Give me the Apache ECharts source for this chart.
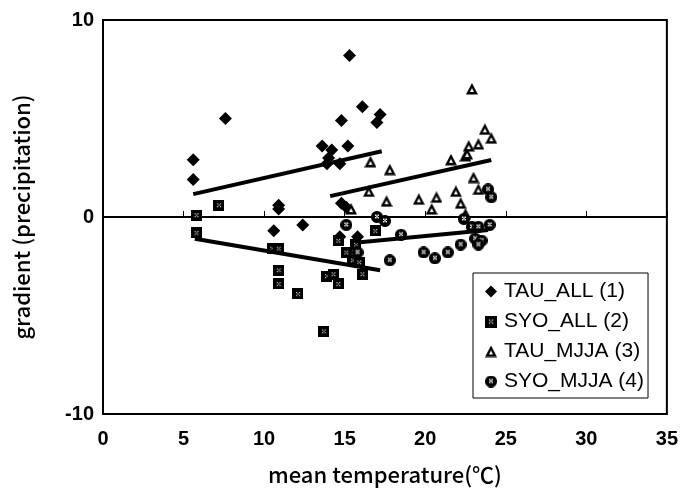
<!DOCTYPE html>
<html>
<head>
<meta charset="utf-8">
<script src="https://cdn.jsdelivr.net/npm/echarts@6/dist/echarts.min.js"></script>
<style>
  html, body { margin: 0; padding: 0; background: #fff; }
  #chart { width: 681px; height: 492px; }
</style>
</head>
<body>
<div id="chart"></div>
<script>
// values: [mean temperature, gradient]
const tauAll = [
  [5.6, 2.9], [5.6, 1.9], [7.6, 5.0], [15.3, 8.2], [16.1, 5.6], [17.2, 5.2],
  [17.0, 4.8], [14.8, 4.9], [13.6, 3.6], [14.2, 3.4], [15.2, 3.6], [14.0, 3.0],
  [13.9, 2.7], [14.7, 2.7], [14.8, 0.7], [15.1, 0.5], [10.9, 0.4], [10.9, 0.6],
  [10.6, -0.7], [12.4, -0.4], [14.7, -1.0], [15.8, -1.0]
]
const syoAll = [
  [5.8, 0.1], [7.2, 0.6], [5.8, -0.8], [10.5, -1.6], [10.9, -1.6], [10.9, -2.7],
  [10.9, -3.4], [12.1, -3.9], [13.7, -5.8], [13.9, -3.0], [14.3, -2.9], [14.6, -3.4],
  [14.6, -1.2], [15.1, -1.8], [15.5, -2.2], [15.9, -2.3], [16.1, -2.9], [15.7, -1.4],
  [16.9, -0.7]
]
const tauMjja = [
  [15.4, 0.4], [16.6, 2.8], [17.8, 2.4], [16.5, 1.3], [17.6, 0.8], [19.6, 0.9],
  [20.4, 0.4], [20.7, 1.0], [21.6, 2.9], [22.5, 3.1], [22.6, 3.2], [22.7, 3.6],
  [23.3, 3.7], [23.7, 4.45], [24.1, 4.0], [22.9, 6.5], [21.9, 1.3], [22.2, 0.7],
  [23.0, 2.0], [23.3, 1.4], [22.5, 0.15]
]
const syoMjja = [
  [15.1, -0.4], [17.0, 0.0], [17.5, -0.2], [15.8, -1.8], [18.5, -0.9], [17.8, -2.2],
  [19.9, -1.8], [20.6, -2.1], [21.4, -1.8], [22.2, -1.4], [22.4, -0.1], [22.9, -0.5],
  [23.3, -0.5], [24.0, -0.4], [23.1, -1.1], [23.5, -1.2], [23.3, -1.4], [23.9, 1.4],
  [24.1, 1.0]
]

// trend lines (end points)
const line1 = [[5.6, 1.16], [17.3, 3.34]]
const line2 = [[5.7, -1.1], [17.2, -2.7]]
const line3 = [[14.1, 1.06], [24.1, 2.89]]
const line4 = [[15.8, -1.3], [23.9, -0.66]]

const seriesNames = ['TAU_ALL (1)', 'SYO_ALL (2)', 'TAU_MJJA (3)', 'SYO_MJJA (4)']
const notes = [
  { value: [8.2, 3.0], text: '(1)' },
  { value: [8.2, -3.1], text: '(2)' },
  { value: [20.9, 4.0], text: '(3)' },
  { value: [21.4, -3.85], text: '(4)' }
]

// little hatched markers like the printed ones
function makeSymbol(kind) {
  const c = document.createElement('canvas')
  c.width = 24
  c.height = 24
  const g = c.getContext('2d')
  g.fillStyle = '#000'
  if (kind === 'square') {
    g.fillRect(0, 0, 24, 24)
    g.fillStyle = '#ddd'
    ;[[8, 8], [14, 8], [11, 11], [8, 14], [14, 14]].forEach(p => g.fillRect(p[0], p[1], 2.5, 2.5))
  } else if (kind === 'circle') {
    g.beginPath(); g.arc(12, 12, 12, 0, Math.PI * 2); g.fill()
    g.fillStyle = '#eee'
    ;[[8, 7], [13, 7], [8, 12], [13, 12], [10.5, 9.5]].forEach(p => g.fillRect(p[0], p[1], 3, 3))
  } else if (kind === 'triangle') {
    g.beginPath(); g.moveTo(12, 0); g.lineTo(24, 23); g.lineTo(0, 23); g.closePath(); g.fill()
    g.fillStyle = '#fff'
    g.beginPath(); g.moveTo(12, 10); g.lineTo(16, 18); g.lineTo(8, 18); g.closePath(); g.fill()
  }
  return 'image://' + c.toDataURL()
}

const chart = echarts.init(document.getElementById('chart'))

function scatter(name, data, symbol, size) {
  return {
    name: name,
    type: 'scatter',
    data: data,
    symbol: symbol,
    symbolSize: size,
    itemStyle: { color: '#000', opacity: 1 },
    z: 3
  }
}
function trend(data) {
  return {
    type: 'line',
    data: data,
    symbol: 'none',
    lineStyle: { color: '#000', width: 4 },
    silent: true,
    z: 4
  }
}

const tickFont = { fontFamily: 'Liberation Sans Narrow, Liberation Sans', fontWeight: 'bold', fontSize: 20, color: '#000' }

const option = {
  animation: false,
  backgroundColor: '#fff',
  grid: {
    left: 103, right: 14, top: 20, bottom: 78,
    show: true, borderColor: '#000', borderWidth: 2, backgroundColor: 'transparent'
  },
  xAxis: {
    type: 'value',
    min: 0, max: 35, interval: 5,
    name: 'mean temperature(℃)',
    nameLocation: 'middle',
    nameGap: 50,
    nameTextStyle: { fontFamily: 'Noto Sans CJK JP', fontSize: 22, fontWeight: 500, color: '#000' },
    axisLine: { show: true, lineStyle: { color: '#000', width: 2 } },
    axisTick: { show: true, inside: true, length: 6, lineStyle: { color: '#000' } },
    axisLabel: Object.assign({ margin: 15 }, tickFont),
    splitLine: { show: false }
  },
  yAxis: {
    type: 'value',
    min: -10, max: 10, interval: 10,
    name: 'gradient (precipitation)',
    nameLocation: 'middle',
    nameRotate: 90,
    nameGap: 70,
    nameTextStyle: { fontFamily: 'Noto Sans CJK JP', fontSize: 22, fontWeight: 500, color: '#000' },
    axisLine: { show: true, lineStyle: { color: '#000', width: 2 } },
    axisTick: { show: false },
    axisLabel: Object.assign({ margin: 9 }, tickFont),
    splitLine: { show: true, lineStyle: { color: '#000', width: 1 } }
  },
  legend: {
    data: seriesNames,
    orient: 'vertical',
    left: 473, top: 273,
    padding: [8, 4, 6, 12],
    itemGap: 9,
    itemWidth: 12, itemHeight: 12,
    backgroundColor: '#fff',
    borderColor: '#000', borderWidth: 1, borderRadius: 0,
    textStyle: { fontFamily: 'Liberation Sans', fontSize: 21, color: '#000', padding: [0, 0, 0, 2] }
  },
  series: [
    scatter(seriesNames[0], tauAll, 'diamond', 13),
    scatter(seriesNames[1], syoAll, makeSymbol('square'), 11),
    scatter(seriesNames[2], tauMjja, makeSymbol('triangle'), 12),
    scatter(seriesNames[3], syoMjja, makeSymbol('circle'), 12),
    trend(line1), trend(line2), trend(line3), trend(line4),
    {
      type: 'scatter',
      data: notes,
      symbol: 'none',
      silent: true,
      label: {
        show: true, position: 'inside',
        formatter: p => p.data.text,
        fontFamily: 'Noto Sans CJK JP', fontSize: 21, color: '#000'
      }
    }
  ]
}

chart.setOption(option)
</script>
</body>
</html>
